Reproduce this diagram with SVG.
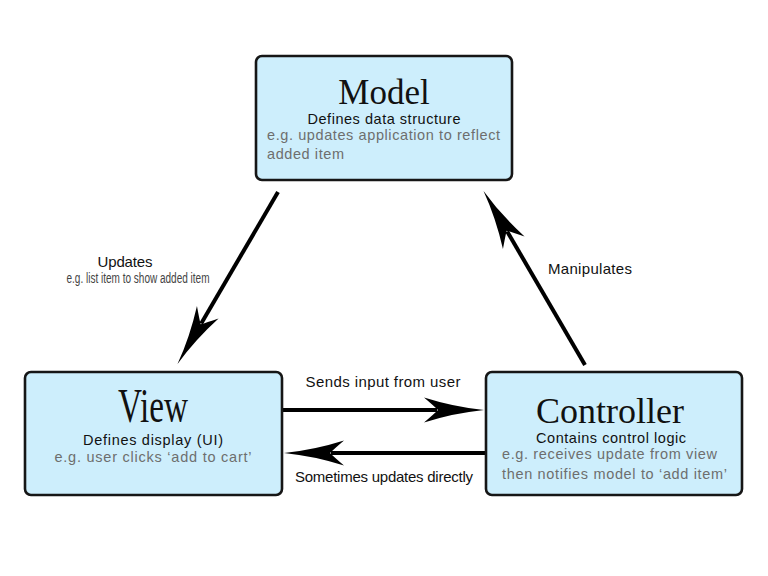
<svg xmlns="http://www.w3.org/2000/svg" width="768" height="576" viewBox="0 0 768 576">
<style>
.box{fill:#cdeefc;stroke:#161616;stroke-width:2.6}
.title{font-family:"Liberation Serif","Times New Roman",serif;font-size:36px;fill:#111;text-anchor:middle}
.sub{font-family:"Liberation Sans",Arial,sans-serif;font-size:14.5px;fill:#111}
.gray{font-family:"Liberation Sans",Arial,sans-serif;font-size:14.5px;fill:#6e6e6e}
.lbl{font-family:"Liberation Sans",Arial,sans-serif;font-size:15px;fill:#111}
.small{font-family:"Liberation Sans",Arial,sans-serif;font-size:14px;fill:#444}
.mid{text-anchor:middle}
.conn{stroke:#000;stroke-width:4;fill:none;marker-end:url(#head)}
</style>
<defs>
<marker id="head" markerUnits="userSpaceOnUse" viewBox="-62 -14 64 28" markerWidth="64" markerHeight="28" refX="-47" refY="0" orient="auto">
<path d="M0,0 Q-30,-3 -60,-12.5 Q-50,-4 -46,0 Q-50,4 -60,12.5 Q-30,3 0,0 Z" fill="#000"/>
</marker>
</defs>
<rect width="768" height="576" fill="#fff"/>
<g id="connectors">
<line class="conn" x1="278" y1="192" x2="201.2" y2="323.5"/>
<line class="conn" x1="585" y1="365" x2="507.2" y2="231.5"/>
<line class="conn" x1="283" y1="410" x2="437" y2="410"/>
<line class="conn" x1="486" y1="453" x2="331" y2="453"/>
<text class="lbl mid" x="125" y="267" textLength="55">Updates</text>
<text class="small mid" x="138" y="283" textLength="143" lengthAdjust="spacingAndGlyphs">e.g. list item to show added item</text>
<text class="lbl" x="548" y="274" textLength="84">Manipulates</text>
<text class="lbl mid" x="383" y="387" textLength="155">Sends input from user</text>
<text class="lbl mid" x="384" y="482" textLength="178">Sometimes updates directly</text>
</g>
<g id="model">
<rect class="box" x="256" y="56" width="256" height="124" rx="6"/>
<text class="title" x="384" y="104" style="font-size:35px">Model</text>
<text class="sub mid" x="384" y="124" textLength="153">Defines data structure</text>
<text class="gray" x="267" y="140" textLength="233">e.g. updates application to reflect</text>
<text class="gray" x="267" y="159" textLength="77">added item</text>
</g>
<g id="view">
<rect class="box" x="25" y="372" width="257" height="123" rx="6"/>
<text class="title" x="153" y="422" style="font-size:48px" textLength="70" lengthAdjust="spacingAndGlyphs">View</text>
<text class="sub mid" x="153" y="445" textLength="140">Defines display (UI)</text>
<text class="gray mid" x="153" y="462" textLength="197">e.g. user clicks ‘add to cart’</text>
</g>
<g id="controller">
<rect class="box" x="486" y="372" width="256" height="123" rx="6"/>
<text class="title" x="610" y="423">Controller</text>
<text class="sub mid" x="611" y="443" textLength="150">Contains control logic</text>
<text class="gray" x="502" y="459" textLength="215">e.g. receives update from view</text>
<text class="gray" x="502" y="479" textLength="225">then notifies model to ‘add item’</text>
</g>
</svg>
